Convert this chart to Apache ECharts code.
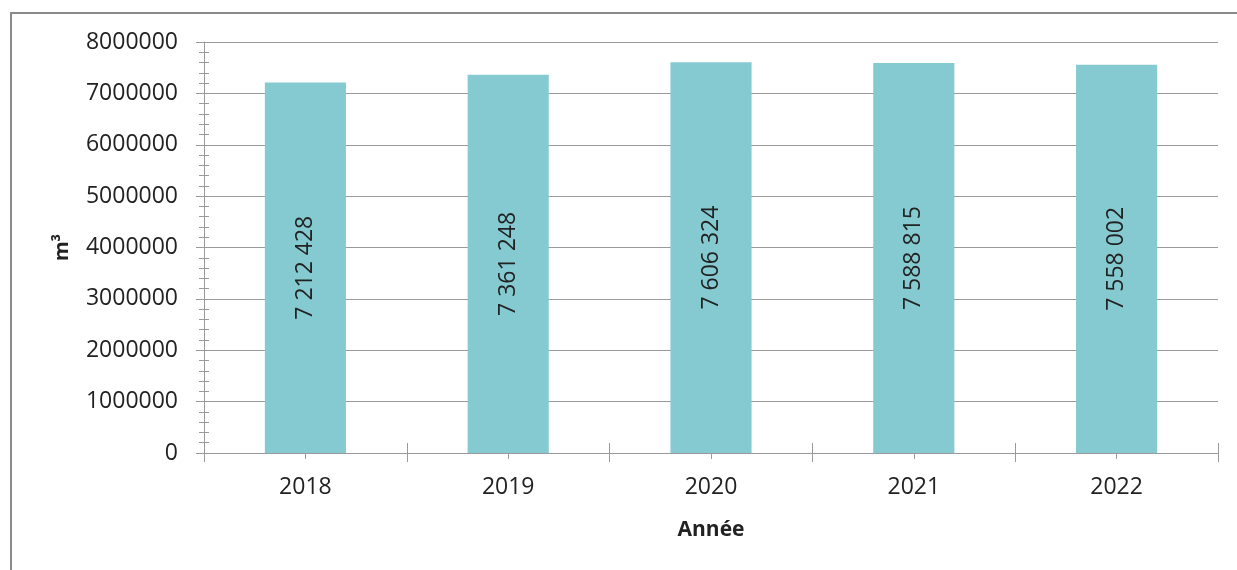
<!DOCTYPE html>
<html>
<head>
<meta charset="utf-8">
<script src="https://cdn.jsdelivr.net/npm/echarts@6/dist/echarts.min.js"></script>
<style>
html,body{margin:0;padding:0;background:#fff;}
#c{width:1237px;height:570px;}
</style>
</head>
<body>
<div id="c"></div>
<script>
const categories = ['2018', '2019', '2020', '2021', '2022'];
const volumes = [7212428, 7361248, 7606324, 7588815, 7558002];
const yTickLabels = ['0', '1000000', '2000000', '3000000', '4000000', '5000000', '6000000', '7000000', '8000000'];
const xTitle = 'Année';
const yTitle = 'm³';

const FONT = '"Open Sans", sans-serif';
const AXIS_COLOR = '#9a9a9a';
const yMin = 0, yMax = 8000000, yInterval = 1000000;

function fmt(v) {
  return String(v).replace(/\B(?=(\d{3})+(?!\d))/g, ' ');
}

const chart = echarts.init(document.getElementById('c'), null, {renderer: 'canvas'});

function xAx(extra) {
  return Object.assign({
    type: 'category',
    data: categories,
    position: 'bottom',
    axisLine: {show: false},
    axisLabel: {show: false},
    splitLine: {show: false}
  }, extra);
}
function yAx(extra) {
  return Object.assign({
    type: 'value',
    position: 'left',
    min: yMin, max: yMax, interval: yInterval,
    axisLine: {show: false},
    axisLabel: {show: false},
    splitLine: {show: false}
  }, extra);
}

chart.setOption({
  animation: false,
  backgroundColor: '#fff',
  grid: {left: 204, right: 19, top: 42, bottom: 117, containLabel: false},
  xAxis: [
    xAx({
      boundaryGap: true,
      axisLine: {show: true, lineStyle: {color: AXIS_COLOR, width: 1}},
      axisTick: {show: true, length: 9, lineStyle: {color: AXIS_COLOR}},
      axisLabel: {show: true, color: '#222', fontFamily: FONT, fontSize: 23, margin: 23},
      name: xTitle,
      nameLocation: 'middle',
      nameGap: 67,
      nameTextStyle: {color: '#222', fontFamily: FONT, fontSize: 21, fontWeight: 'bold'}
    }),
    xAx({axisTick: {show: true, inside: true, length: 10, lineStyle: {color: AXIS_COLOR}}}),
    xAx({axisTick: {show: true, alignWithLabel: true, length: 6, lineStyle: {color: AXIS_COLOR}}}),
    xAx({axisTick: {show: true, alignWithLabel: true, inside: true, length: 7, lineStyle: {color: AXIS_COLOR}}})
  ],
  yAxis: [
    yAx({
      axisLine: {show: true, lineStyle: {color: AXIS_COLOR, width: 1}},
      axisTick: {show: true, length: 8, lineStyle: {color: AXIS_COLOR}},
      minorTick: {show: true, splitNumber: 5, length: 5, lineStyle: {color: AXIS_COLOR}},
      axisLabel: {
        show: true, color: '#222', fontFamily: FONT, fontSize: 23, margin: 26,
        formatter: function (v) { return yTickLabels[Math.round(v / yInterval)]; }
      },
      splitLine: {show: true, lineStyle: {color: AXIS_COLOR, width: 1}},
      name: yTitle,
      nameLocation: 'middle',
      nameGap: 132,
      nameRotate: 90,
      nameTextStyle: {color: '#222', fontFamily: FONT, fontSize: 20, fontWeight: 'bold'}
    }),
    yAx({
      axisTick: {show: true, inside: true, length: 7, lineStyle: {color: AXIS_COLOR}},
      minorTick: {show: true, splitNumber: 5, length: 5, lineStyle: {color: AXIS_COLOR}}
    })
  ],
  series: [{
    type: 'bar',
    xAxisIndex: 0,
    yAxisIndex: 0,
    data: volumes,
    barWidth: '40%',
    itemStyle: {color: '#84CAD0'},
    label: {
      show: true,
      position: 'inside',
      rotate: 90,
      color: '#222',
      fontFamily: FONT,
      fontSize: 23,
      formatter: function (p) { return fmt(p.value); }
    }
  }],
  graphic: [{
    type: 'rect',
    silent: true,
    z: 100,
    shape: {x: 11, y: 13, width: 1400, height: 800},
    style: {fill: 'none', stroke: '#8a8a8a', lineWidth: 2}
  }]
});
</script>
</body>
</html>
